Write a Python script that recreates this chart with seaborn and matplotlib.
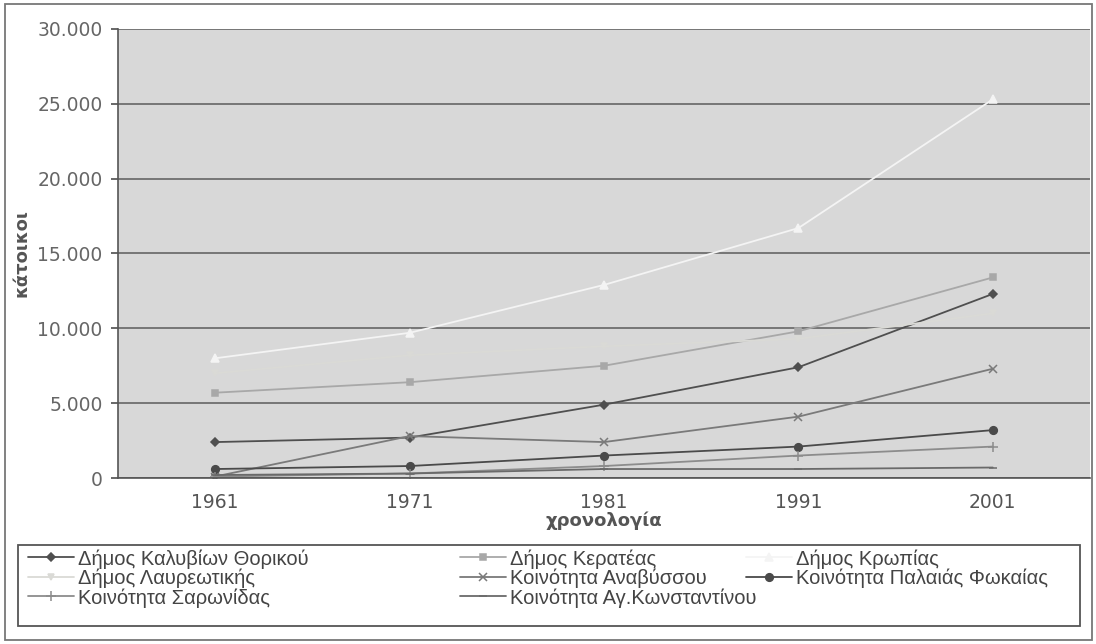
import numpy as np
import pandas as pd
import matplotlib
matplotlib.use("Agg")
import matplotlib.pyplot as plt
from matplotlib.patches import Rectangle
from matplotlib.ticker import FuncFormatter, FixedLocator
import seaborn as sns

# Data (population per census year)
years = ['1961', '1971', '1981', '1991', '2001']
kalyvia = [2400, 2700, 4900, 7400, 12300]
keratea = [5700, 6400, 7500, 9800, 13400]
kropia = [8000, 9700, 12900, 16700, 25300]
lavreotiki = [7000, 8200, 8800, 9300, 11000]
anavyssos = [100, 2800, 2400, 4100, 7300]
palaia_fokaia = [600, 800, 1500, 2100, 3200]
saronida = [100, 300, 800, 1500, 2100]
ag_konstantinos = [200, 300, 600, 600, 700]

names = ['Δήμος Καλυβίων Θορικού', 'Δήμος Κερατέας', 'Δήμος Κρωπίας',
         'Δήμος Λαυρεωτικής', 'Κοινότητα Αναβύσσου', 'Κοινότητα Παλαιάς Φωκαίας',
         'Κοινότητα Σαρωνίδας', 'Κοινότητα Αγ.Κωνσταντίνου']
values = [kalyvia, keratea, kropia, lavreotiki, anavyssos, palaia_fokaia,
          saronida, ag_konstantinos]

colors = ['#4f4f4f', '#a8a8a8', '#f4f4f4', '#dadad6', '#7a7a7a', '#4a4a4a',
          '#8c8c8c', '#6a6a6a']
markers = ['D', 's', '^', 'v', 'x', 'o', '+', '_']
msizes = [4.5, 5, 5.5, 4, 6, 5.5, 7, 6]

df = pd.DataFrame({
    'year': np.tile(np.arange(len(years)), len(names)),
    'value': np.concatenate(values),
    'series': np.repeat(names, len(years)),
})

sns.set_theme(style='white')
plt.rcParams['font.family'] = ['DejaVu Sans']

fig = plt.figure(figsize=(10.96, 6.44), dpi=100)
ax = fig.add_axes([118 / 1096, 1 - 478 / 644, (1090 - 118) / 1096, (478 - 29) / 644])
ax.set_facecolor('#d8d8d8')

handles = []
for name, c, m, ms in zip(names, colors, markers, msizes):
    sub = df[df['series'] == name]
    sns.lineplot(data=sub, x='year', y='value', ax=ax, color=c, marker=m,
                 markersize=ms, markeredgecolor=c, markeredgewidth=1.1,
                 linewidth=1.3, label=name, legend=False)
    handles.append(ax.lines[-1])

ax.set_xlim(-0.5, len(years) - 0.5)
ax.set_ylim(0, 30000)
ax.set_yticks(np.arange(0, 30001, 5000))
ax.yaxis.set_major_formatter(FuncFormatter(lambda v, p: f'{int(v):,}'.replace(',', '.')))
ax.set_xticks(np.arange(len(years)))
ax.set_xticklabels(years)
ax.xaxis.set_minor_locator(FixedLocator(np.arange(-0.5, len(years), 1.0)))
ax.tick_params(axis='x', which='major', length=0, pad=11, labelsize=13.5, labelcolor='#555555')
ax.tick_params(axis='x', which='minor', length=5, color='#555555', direction='out')
ax.tick_params(axis='y', length=5, color='#555555', direction='out', left=True,
               labelsize=13.5, labelcolor='#666666', pad=6)
ax.grid(axis='y', color='#6e6e6e', linewidth=1.3)
ax.set_axisbelow(True)
for s in ['top', 'right']:
    ax.spines[s].set_visible(False)
for s in ['left', 'bottom']:
    ax.spines[s].set_color('#555555')
    ax.spines[s].set_linewidth(1.2)

ax.set_xlabel('χρονολογία', fontsize=13, fontweight='bold', color='#555555')
ax.xaxis.set_label_coords(0.5, -(521 - 478) / 449, transform=ax.transAxes)
ax.xaxis.label.set_va('center')
ax.set_ylabel('κάτοικοι', fontsize=13, fontweight='bold', color='#555555')
ax.yaxis.set_label_coords(-(118 - 22) / 972, 0.5)
ax.yaxis.label.set_va('center')

# legend box with three columns placed like the original
fig.patches.append(Rectangle((18 / 1096, 1 - 626 / 644), 1062 / 1096, 81 / 644,
                             transform=fig.transFigure, fill=False,
                             edgecolor='#555555', linewidth=1.3))
columns = [[0, 3, 6], [1, 4, 7], [2, 5]]
col_x = [24, 456, 742]
for idx, x0 in zip(columns, col_x):
    leg = fig.legend([handles[i] for i in idx], [names[i] for i in idx],
                     loc='upper left', bbox_to_anchor=(x0 / 1096, 1 - 545 / 644),
                     prop={'family': 'Liberation Sans', 'size': 14.5},
                     frameon=False, handlelength=2.3,
                     handletextpad=0.2, labelspacing=0.0, borderpad=0.2,
                     borderaxespad=0)
    for t in leg.get_texts():
        t.set_color('#444444')

# outer chart border
fig.patches.append(Rectangle((5 / 1096, 4 / 644), 1087 / 1096, 636 / 644,
                             transform=fig.transFigure, fill=False,
                             edgecolor='#777777', linewidth=1.3))

fig.savefig('out.png', dpi=100)
